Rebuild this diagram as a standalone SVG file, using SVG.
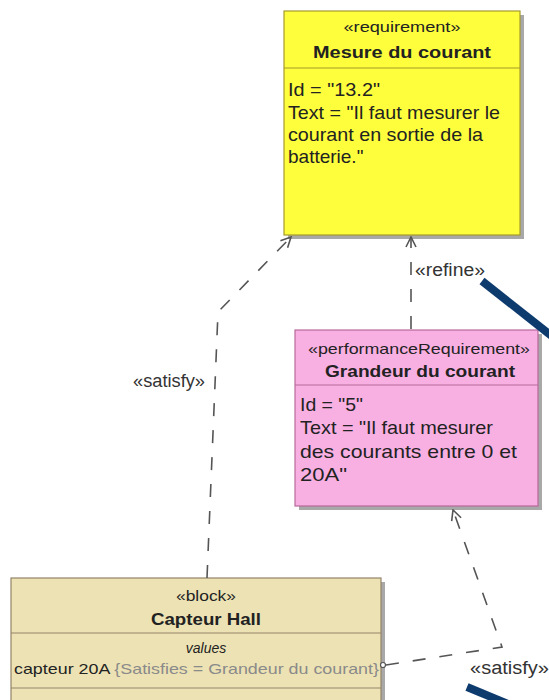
<svg xmlns="http://www.w3.org/2000/svg" width="549" height="700" viewBox="0 0 549 700">
  <defs>
    <marker id="open-arrow" viewBox="0 0 12 12" refX="11" refY="6" markerWidth="12" markerHeight="12" markerUnits="userSpaceOnUse" orient="auto">
      <path d="M1,1 L11,6 L1,11" fill="none" stroke="#555" stroke-width="1.6"/>
    </marker>
  </defs>
  <style>
    text { font-family: "Liberation Sans", Arial, sans-serif; fill: #222; }
    .stereo { font-size: 15px; text-anchor: middle; }
    .name { font-size: 16px; font-weight: bold; text-anchor: middle; }
    .body { font-size: 19px; }
    .shadow { fill: #a8a8a8; }
    .req { fill: #fefe3c; stroke: #a59a2a; stroke-width: 1.2; }
    .perf { fill: #f8b0e2; stroke: #b86a9c; stroke-width: 1.2; }
    .block { fill: #ede2b4; stroke: #948468; stroke-width: 1.2; }
    .sep { stroke-width: 1.2; }
    .dep { fill: none; stroke: #555; stroke-width: 1.6; stroke-dasharray: 13 14; }
    .lbl { font-size: 18px; fill: #333; }
    .pointer { stroke: #0d3b6e; stroke-width: 8; }
  </style>

  <rect width="549" height="700" fill="#ffffff"/>

  <!-- requirement: Mesure du courant -->
  <g id="req-mesure">
    <rect class="shadow" x="288" y="15" width="236" height="224"/>
    <rect class="req" x="284" y="11" width="236" height="224"/>
    <line class="sep" x1="284" y1="68" x2="520" y2="68" stroke="#a59a2a"/>
    <text class="stereo" x="402" y="32" textLength="117" lengthAdjust="spacingAndGlyphs">«requirement»</text>
    <text class="name" x="402" y="58" textLength="178" lengthAdjust="spacingAndGlyphs">Mesure du courant</text>
    <text class="body" x="288" y="96" textLength="92" lengthAdjust="spacingAndGlyphs">Id = "13.2"</text>
    <text class="body" x="288" y="119" textLength="212" lengthAdjust="spacingAndGlyphs">Text = "Il faut mesurer le</text>
    <text class="body" x="288" y="141" textLength="195" lengthAdjust="spacingAndGlyphs">courant en sortie de la</text>
    <text class="body" x="288" y="163">batterie."</text>
  </g>

  <!-- performanceRequirement: Grandeur du courant -->
  <g id="perf-grandeur">
    <rect class="shadow" x="299" y="334" width="243" height="176"/>
    <rect class="perf" x="295" y="330" width="243" height="176"/>
    <line class="sep" x1="295" y1="385" x2="538" y2="385" stroke="#b86a9c"/>
    <text class="stereo" x="419" y="354" textLength="222" lengthAdjust="spacingAndGlyphs">«performanceRequirement»</text>
    <text class="name" x="420" y="377" textLength="190" lengthAdjust="spacingAndGlyphs">Grandeur du courant</text>
    <text class="body" x="300" y="411" textLength="63" lengthAdjust="spacingAndGlyphs">Id = "5"</text>
    <text class="body" x="300" y="434" textLength="193" lengthAdjust="spacingAndGlyphs">Text = "Il faut mesurer</text>
    <text class="body" x="300" y="458" textLength="217" lengthAdjust="spacingAndGlyphs">des courants entre 0 et</text>
    <text class="body" x="300" y="481" textLength="47" lengthAdjust="spacingAndGlyphs">20A"</text>
  </g>

  <!-- block: Capteur Hall -->
  <g id="block-capteur">
    <rect class="shadow" x="15" y="582" width="370" height="130"/>
    <rect class="block" x="11" y="578" width="370" height="130"/>
    <line class="sep" x1="11" y1="633" x2="381" y2="633" stroke="#948468"/>
    <line class="sep" x1="11" y1="688" x2="381" y2="688" stroke="#948468"/>
    <text class="stereo" x="206" y="601" textLength="60" lengthAdjust="spacingAndGlyphs">«block»</text>
    <text class="name" x="206" y="625" textLength="110" lengthAdjust="spacingAndGlyphs">Capteur Hall</text>
    <text x="206" y="653" font-size="14" font-style="italic" text-anchor="middle">values</text>
    <text x="14" y="674" font-size="15" textLength="365" lengthAdjust="spacingAndGlyphs">capteur 20A <tspan fill="#8a8a8a">{Satisfies = Grandeur du courant}</tspan></text>
  </g>

  <!-- dependencies -->
  <g id="connectors">
    <polyline class="dep" points="207,578 218,312 291,237" marker-end="url(#open-arrow)"/>
    <line class="dep" x1="411" y1="329" x2="411" y2="237" marker-end="url(#open-arrow)"/>
    <polyline class="dep" points="386,665 502,647 453,510" marker-end="url(#open-arrow)"/>
    <circle cx="383" cy="665" r="2.5" fill="#fff" stroke="#555" stroke-width="1.2"/>
    <text class="lbl" x="133" y="387" textLength="72" lengthAdjust="spacingAndGlyphs">«satisfy»</text>
    <text class="lbl" x="415" y="276" textLength="70" lengthAdjust="spacingAndGlyphs">«refine»</text>
    <text class="lbl" x="470" y="674" textLength="79" lengthAdjust="spacingAndGlyphs">«satisfy»</text>
  </g>

  <!-- callout strokes -->
  <line class="pointer" x1="482" y1="281" x2="553" y2="337"/>
  <line class="pointer" x1="467" y1="687" x2="508" y2="704"/>
</svg>
